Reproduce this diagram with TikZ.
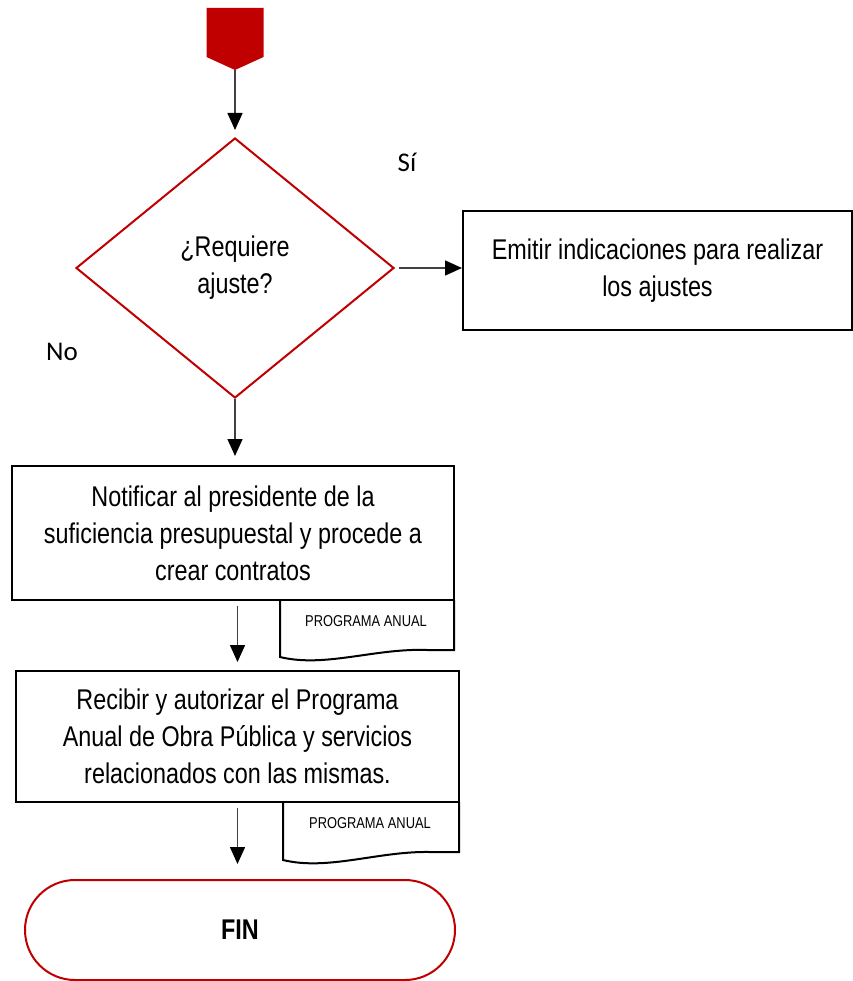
\documentclass[tikz,border=0pt]{standalone}
\usepackage{fontspec}
\setmainfont[FakeStretch=0.82]{Liberation Sans}
\newfontfamily\labelfont{Carlito}
\usepackage{tikz}
\usetikzlibrary{arrows.meta,shapes.geometric,shapes.misc}
\definecolor{rojo}{HTML}{C00000}
\newcommand{\textsz}{\fontsize{28.5}{37}\selectfont}
\newcommand{\docsz}{\fontsize{15.7}{19}\selectfont}
\tikzset{
	proc/.style={draw, line width=2pt, align=center, font=\textsz, inner sep=0pt},
	doc/.style={font=\docsz, inner sep=0pt},
	arr/.style={line width=1.5pt, color=black!75, -{Triangle[length=17pt,width=15pt,black]}},
	rama/.style={font=\labelfont\fontsize{27}{30}\selectfont, inner sep=0pt}
}

\begin{document}
\begin{tikzpicture}[x=1pt, y=-1pt]
			%%%%% START %%%%%
			\useasboundingbox (0, 0) rectangle (852, 981);
			
			\fill[rojo] (206.5, 8) -- (263.5, 8) -- (263.5, 57) -- (235, 70) -- (206.5, 57) -- cycle;
			\coordinate (start) at (235, 70);
			
			\node[draw=rojo, line width=2pt, diamond, minimum width=318pt, minimum height=260pt, inner sep=0pt, align=center, font=\textsz] (q) at (235, 268) {¿Requiere\\ajuste?};
			\node[rama] (si) at (407, 162) {Sí};
			\node[rama] (no) at (62, 352) {No};
			
			\node[proc, minimum width=389pt, minimum height=119pt] (emitir) at (657.5, 270.5) {Emitir indicaciones para realizar\\los ajustes};
			
			\node[proc, minimum width=442pt, minimum height=134pt] (notif) at (233, 533) {Notificar al presidente de la\\suficiencia presupuestal y procede a\\crear contratos};
			
			\draw[line width=2pt] (280, 600) -- (280, 657) .. controls (325, 668) and (375, 648) .. (427, 650) -- (454, 650) -- (454, 600);
			\node[doc] (doc1) at (366, 621) {PROGRAMA ANUAL};
			
			\node[proc, minimum width=443pt, minimum height=131pt] (recib) at (237.5, 736.5) {Recibir y autorizar el Programa\\Anual de Obra Pública y servicios\\relacionados con las mismas.};
			
			\draw[line width=2pt] (283, 802) -- (283, 860) .. controls (328, 871) and (378, 851) .. (430, 852) -- (459, 852) -- (459, 802);
			\node[doc] (doc2) at (370, 823) {PROGRAMA ANUAL};
			
			\node[draw=rojo, line width=2pt, rounded rectangle, minimum width=430pt, minimum height=100pt, inner sep=0pt, font=\textsz\bfseries] (fin) at (240, 930) {FIN};
			
			\draw[arr, shorten >=7pt] (start) -- (q.north);
			\draw[arr, shorten <=4pt] (q.east) -- (q.east -| emitir.west);
			\draw[arr, shorten >=9pt] (q.south) -- (q.south |- notif.north);
			\draw[arr, shorten <=5pt, shorten >=8pt] (recib.north |- notif.south) -- (recib.north);
			\draw[arr, shorten <=5pt, shorten >=15pt] (recib.south) -- (recib.south |- fin.north);
			%%%%% END %%%%%
\end{tikzpicture}
\end{document}
